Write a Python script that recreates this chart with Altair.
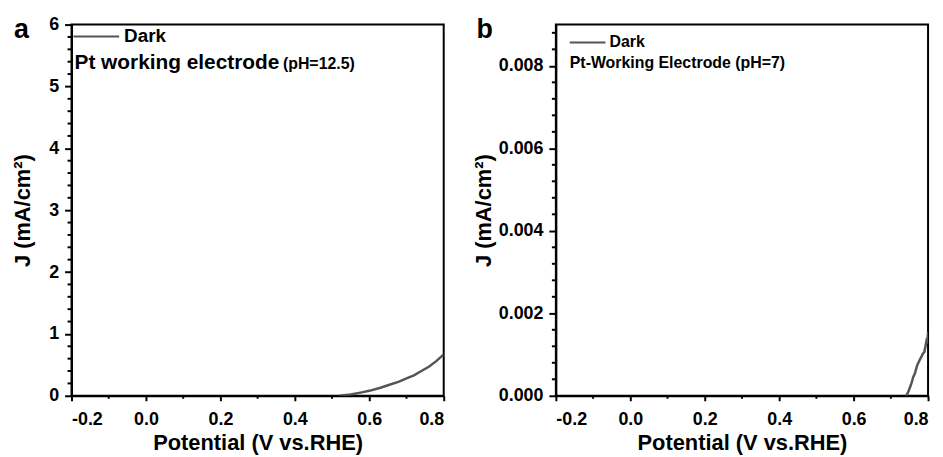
import altair as alt
import pandas as pd

FONT = "Liberation Sans"

# Panel a: Pt working electrode (pH=12.5), dark current
a_potential = [0.52, 0.55, 0.58, 0.60, 0.63, 0.65, 0.68, 0.70, 0.72, 0.74, 0.76, 0.78, 0.80]
a_current = [0.0, 0.02, 0.055, 0.08, 0.13, 0.17, 0.23, 0.28, 0.33, 0.40, 0.47, 0.56, 0.67]

# Panel b: Pt-Working Electrode (pH=7), dark current
b_potential = [0.742, 0.748, 0.752, 0.756, 0.760, 0.765, 0.770, 0.774, 0.778, 0.782,
               0.786, 0.790, 0.793, 0.796, 0.798, 0.800]
b_current = [0.0, 0.00012, 0.00022, 0.00032, 0.00045, 0.00055, 0.00072, 0.00080, 0.00088,
             0.00094, 0.00102, 0.00106, 0.00120, 0.00134, 0.00132, 0.00154]

x_major = [-0.2, 0.0, 0.2, 0.4, 0.6, 0.8]
x_minor = [-0.1, 0.1, 0.3, 0.5, 0.7]
a_y_major = [0, 1, 2, 3, 4, 5, 6]
a_y_minor = [0.2, 0.4, 0.6, 0.8, 1.2, 1.4, 1.6, 1.8, 2.2, 2.4, 2.6, 2.8,
             3.2, 3.4, 3.6, 3.8, 4.2, 4.4, 4.6, 4.8, 5.2, 5.4, 5.6, 5.8]
b_y_major = [0.0, 0.002, 0.004, 0.006, 0.008]
b_y_minor = [0.0004, 0.0008, 0.0012, 0.0016, 0.0024, 0.0028, 0.0032, 0.0036,
             0.0044, 0.0048, 0.0052, 0.0056, 0.0064, 0.0068, 0.0072, 0.0076,
             0.0084, 0.0088]

x_title = "Potential (V vs.RHE)"
y_title = "J (mA/cm²)"
legend_label = "Dark"

W, H = 375, 374
LINE_COLOR = "#555555"


def panel(px, py, ydomain, ymajor, yminor, yfmt, letter, letter_x, notes, leg, title_pad):
    xs = alt.Scale(domain=[-0.2, 0.8], nice=False, zero=False)
    ys = alt.Scale(domain=ydomain, nice=False, zero=False)
    xax = alt.Axis(values=x_major, labelExpr="replace(format(datum.value, '.1f'), '\u2212', '-')",
                   tickSize=5, tickWidth=2, labelPadding=10, titlePadding=4)
    yax = alt.Axis(values=ymajor, format=yfmt, tickSize=7, tickWidth=2,
                   labelPadding=6, titlePadding=title_pad)
    df = pd.DataFrame({"x": px, "y": py})
    line = alt.Chart(df).mark_line(color=LINE_COLOR, strokeWidth=2.5, clip=True).encode(
        x=alt.X("x:Q", scale=xs, title=x_title, axis=xax),
        y=alt.Y("y:Q", scale=ys, title=y_title, axis=yax),
    )
    xmin = alt.Chart(pd.DataFrame({"x": x_minor})).mark_rule(color="black", strokeWidth=2).encode(
        x=alt.X("x:Q", scale=xs, title=x_title, axis=xax),
        y=alt.value(H), y2=alt.value(H + 3),
    )
    ymin = alt.Chart(pd.DataFrame({"y": yminor})).mark_rule(color="black", strokeWidth=2).encode(
        y=alt.Y("y:Q", scale=ys, title=y_title, axis=yax),
        x=alt.value(0), x2=alt.value(-4),
    )
    legline = alt.Chart(pd.DataFrame({"k": [legend_label]})).mark_rule(
        color=LINE_COLOR, strokeWidth=2).encode(
        x=alt.value(leg[0]), x2=alt.value(leg[1]), y=alt.value(leg[2]))
    legtext = alt.Chart(pd.DataFrame({"t": [legend_label]})).mark_text(
        align="left", baseline="middle", font=FONT, fontWeight="bold",
        fontSize=leg[4], color="black").encode(
        text="t:N", x=alt.value(leg[3]), y=alt.value(leg[2]))
    layers = [line, xmin, ymin, legline, legtext]
    for (txt, tx, ty, fs) in notes:
        layers.append(alt.Chart(pd.DataFrame({"t": [txt]})).mark_text(
            align="left", baseline="alphabetic", font=FONT, fontWeight="bold",
            fontSize=fs, color="black").encode(text="t:N", x=alt.value(tx), y=alt.value(ty)))
    layers.append(alt.Chart(pd.DataFrame({"t": [letter]})).mark_text(
        align="left", baseline="middle", font=FONT, fontWeight="bold",
        fontSize=27, color="black").encode(text="t:N", x=alt.value(letter_x), y=alt.value(6)))
    return alt.layer(*layers).properties(width=W, height=H)


pa = panel(a_potential, a_current, [0, 6], a_y_major, a_y_minor, "d", "a", -58,
           [("Pt working electrode", 3, 45, 21), ("(pH=12.5)", 213, 45, 16)],
           (2, 48, 12, 53, 19), 14)
pb = panel(b_potential, b_current, [0, 0.009], b_y_major, b_y_minor, ".3f", "b", -80,
           [("Pt-Working Electrode (pH=7)", 14, 44, 16)],
           (14, 50, 18, 54, 16), 3)

chart = alt.hconcat(pa, pb, spacing=25).configure_view(
    stroke="black", strokeWidth=2
).configure_axis(
    domainColor="black", domainWidth=2, tickColor="black", grid=False,
    labelFont=FONT, labelFontWeight="bold", labelFontSize=18, labelColor="black",
    titleFont=FONT, titleFontWeight="bold", titleFontSize=22, titleColor="black",
).properties(padding={"left": 2, "top": 5, "right": 5, "bottom": 5}, background="white")

chart.save("out.html", embed_options={"renderer": "svg", "actions": False})
